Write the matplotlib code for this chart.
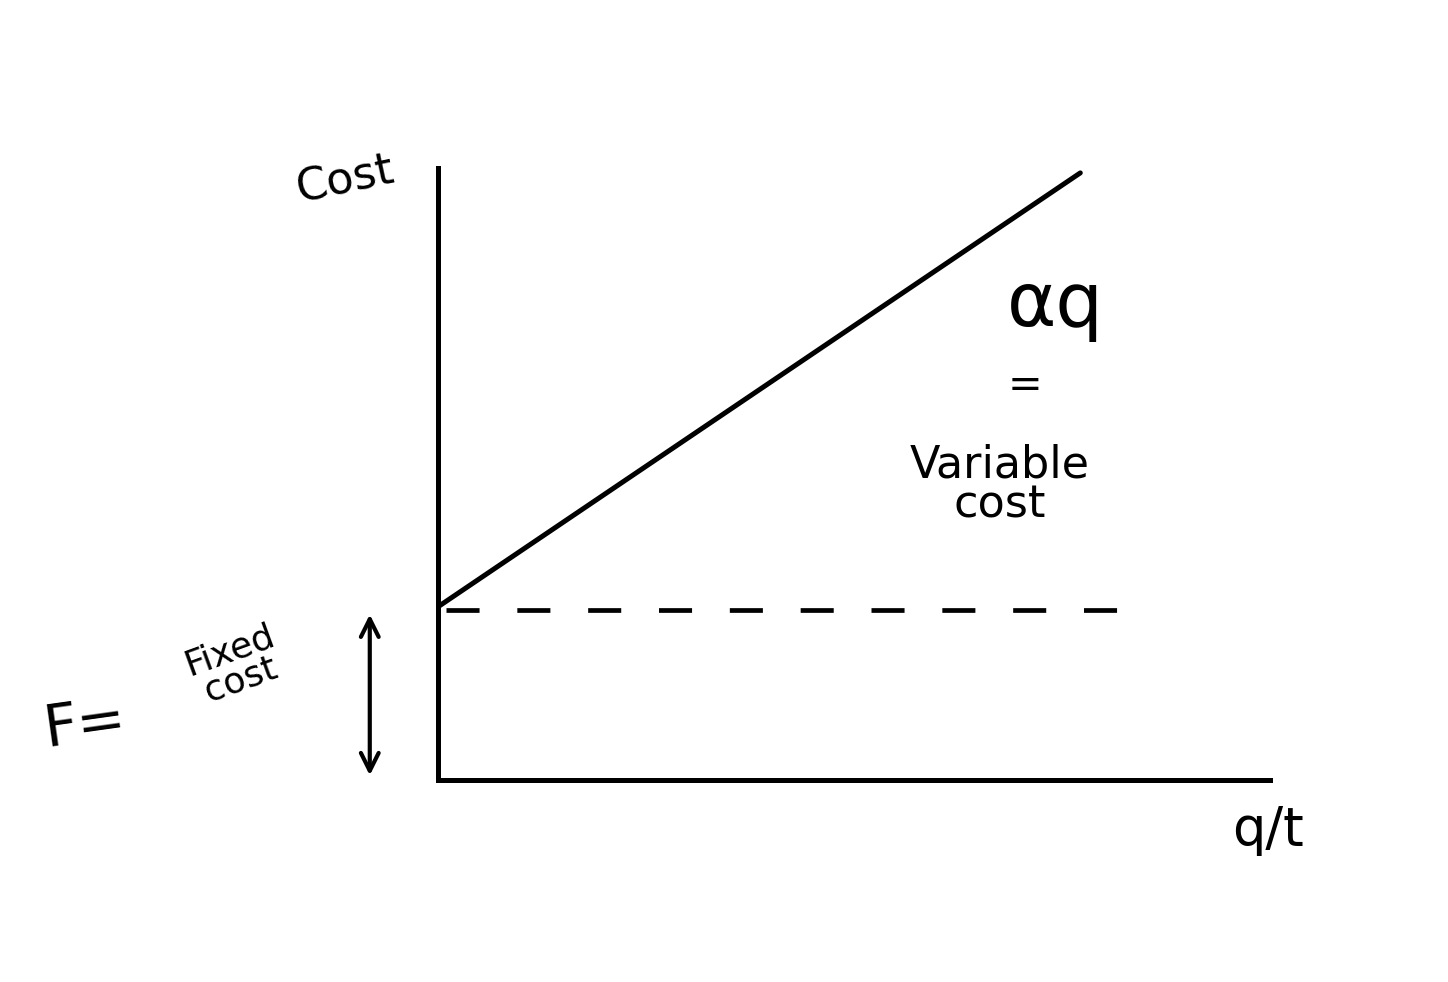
import matplotlib.pyplot as plt

# données du croquis (unités arbitraires)
q_line = [0.0, 7.72]        # quantité q/t
cost_line = [2.83, 9.92]    # coût total = F + alpha*q
q_fixed = [0.1, 8.26]
cost_fixed = [2.78, 2.78]   # coût fixe F
x_max, y_max = 10.0, 10.0

fig = plt.figure(figsize=(14.48, 9.82), dpi=100)
ax = fig.add_axes([438/1448, 1-780/982, 832/1448, 612/982])

ax.plot(q_line, cost_line, color="black", lw=3.6, solid_capstyle="round")
ax.plot(q_fixed, cost_fixed, color="black", lw=3.4, dashes=(7, 8))

ax.set_xlim(0, x_max)
ax.set_ylim(0, y_max)
for s in ["top", "right"]:
    ax.spines[s].set_visible(False)
for s in ["left", "bottom"]:
    ax.spines[s].set_linewidth(3.6)
ax.set_xticks([])
ax.set_yticks([])
ax.patch.set_alpha(0)

# flèche double pour F
ax.annotate("", xy=(-0.82, 0.03), xytext=(-0.82, 2.75),
            arrowprops=dict(arrowstyle="<->", lw=3, color="black",
                            mutation_scale=32), annotation_clip=False)

# textes
ax.text(-1.12, 9.8, "Cost", fontsize=32, rotation=12, ha="center", va="center")
ax.text(7.42, 7.76, "αq", fontsize=54, ha="center", va="center")
ax.text(7.06, 6.45, "=", fontsize=30, ha="center", va="center")
ax.text(6.75, 4.82, "Variable\ncost", fontsize=32, ha="center", va="center",
        linespacing=0.9)
ax.text(-4.24, 0.9, "F=", fontsize=42, ha="center", va="center", rotation=8)
ax.text(-2.44, 1.88, "Fixed\ncost", fontsize=26, ha="center", va="center",
        rotation=20, linespacing=0.9)
ax.text(9.98, -0.82, "q/t", fontsize=38, ha="center", va="center")

fig.savefig("out.png", dpi=100, facecolor="white")
